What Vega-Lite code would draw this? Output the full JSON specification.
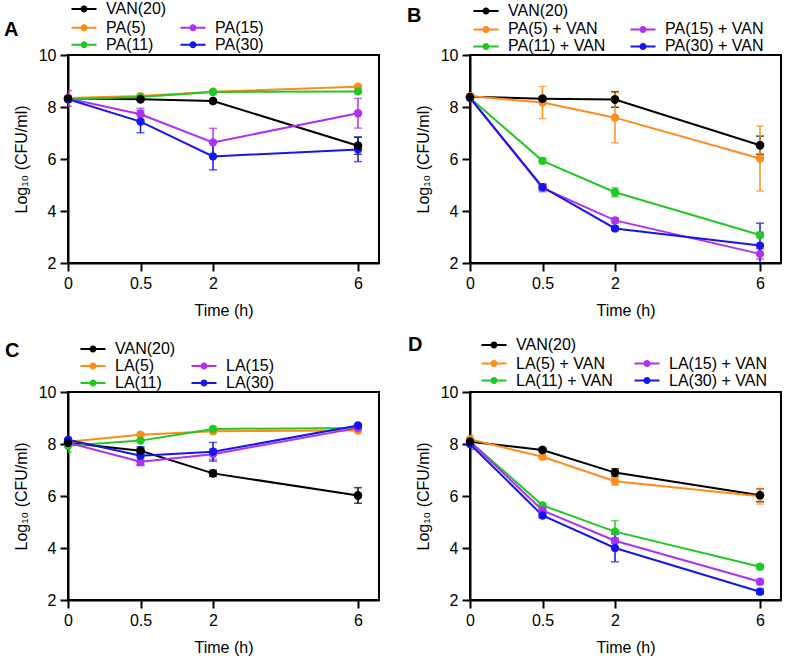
{
  "$schema": "https://vega.github.io/schema/vega-lite/v6.json",
  "autosize": {"type": "pad"},
  "padding": {"left": 3, "top": 0, "right": 2, "bottom": 2},
  "background": "white",
  "datasets": {
    "A": [
      {"t": 0, "s": "VAN(20)", "v": 8.33, "e": 0.05}, {"t": 0.5, "s": "VAN(20)", "v": 8.30, "e": 0.05}, {"t": 2, "s": "VAN(20)", "v": 8.23, "e": 0.05}, {"t": 6, "s": "VAN(20)", "v": 6.51, "e": 0.33},
      {"t": 0, "s": "PA(5)", "v": 8.35, "e": 0.1}, {"t": 0.5, "s": "PA(5)", "v": 8.42, "e": 0.05}, {"t": 2, "s": "PA(5)", "v": 8.59, "e": 0.05}, {"t": 6, "s": "PA(5)", "v": 8.78, "e": 0.05},
      {"t": 0, "s": "PA(11)", "v": 8.30, "e": 0.1}, {"t": 0.5, "s": "PA(11)", "v": 8.38, "e": 0.05}, {"t": 2, "s": "PA(11)", "v": 8.58, "e": 0.05}, {"t": 6, "s": "PA(11)", "v": 8.60, "e": 0.05},
      {"t": 0, "s": "PA(15)", "v": 8.33, "e": 0.3}, {"t": 0.5, "s": "PA(15)", "v": 7.72, "e": 0.23}, {"t": 2, "s": "PA(15)", "v": 6.64, "e": 0.54}, {"t": 6, "s": "PA(15)", "v": 7.76, "e": 0.57},
      {"t": 0, "s": "PA(30)", "v": 8.30, "e": 0.1}, {"t": 0.5, "s": "PA(30)", "v": 7.44, "e": 0.43}, {"t": 2, "s": "PA(30)", "v": 6.10, "e": 0.52}, {"t": 6, "s": "PA(30)", "v": 6.37, "e": 0.47}
    ],
    "B": [
      {"t": 0, "s": "VAN(20)", "v": 8.39, "e": 0.05}, {"t": 0.5, "s": "VAN(20)", "v": 8.32, "e": 0.05}, {"t": 2, "s": "VAN(20)", "v": 8.29, "e": 0.3}, {"t": 6, "s": "VAN(20)", "v": 6.53, "e": 0.35},
      {"t": 0, "s": "PA(5) + VAN", "v": 8.42, "e": 0.1}, {"t": 0.5, "s": "PA(5) + VAN", "v": 8.17, "e": 0.62}, {"t": 2, "s": "PA(5) + VAN", "v": 7.59, "e": 0.97}, {"t": 6, "s": "PA(5) + VAN", "v": 6.02, "e": 1.25},
      {"t": 0, "s": "PA(11) + VAN", "v": 8.35, "e": 0.05}, {"t": 0.5, "s": "PA(11) + VAN", "v": 5.93, "e": 0.1}, {"t": 2, "s": "PA(11) + VAN", "v": 4.72, "e": 0.17}, {"t": 6, "s": "PA(11) + VAN", "v": 3.08, "e": 0.1},
      {"t": 0, "s": "PA(15) + VAN", "v": 8.35, "e": 0.05}, {"t": 0.5, "s": "PA(15) + VAN", "v": 4.89, "e": 0.15}, {"t": 2, "s": "PA(15) + VAN", "v": 3.64, "e": 0.1}, {"t": 6, "s": "PA(15) + VAN", "v": 2.35, "e": 0.2},
      {"t": 0, "s": "PA(30) + VAN", "v": 8.35, "e": 0.05}, {"t": 0.5, "s": "PA(30) + VAN", "v": 4.92, "e": 0.1}, {"t": 2, "s": "PA(30) + VAN", "v": 3.33, "e": 0.08}, {"t": 6, "s": "PA(30) + VAN", "v": 2.67, "e": 0.86}
    ],
    "C": [
      {"t": 0, "s": "VAN(20)", "v": 8.05, "e": 0.1}, {"t": 0.5, "s": "VAN(20)", "v": 7.74, "e": 0.1}, {"t": 2, "s": "VAN(20)", "v": 6.87, "e": 0.12}, {"t": 6, "s": "VAN(20)", "v": 6.02, "e": 0.3},
      {"t": 0, "s": "LA(5)", "v": 8.09, "e": 0.05}, {"t": 0.5, "s": "LA(5)", "v": 8.36, "e": 0.05}, {"t": 2, "s": "LA(5)", "v": 8.49, "e": 0.05}, {"t": 6, "s": "LA(5)", "v": 8.52, "e": 0.05},
      {"t": 0, "s": "LA(11)", "v": 7.93, "e": 0.25}, {"t": 0.5, "s": "LA(11)", "v": 8.13, "e": 0.05}, {"t": 2, "s": "LA(11)", "v": 8.58, "e": 0.05}, {"t": 6, "s": "LA(11)", "v": 8.62, "e": 0.05},
      {"t": 0, "s": "LA(15)", "v": 8.05, "e": 0.1}, {"t": 0.5, "s": "LA(15)", "v": 7.32, "e": 0.15}, {"t": 2, "s": "LA(15)", "v": 7.61, "e": 0.2}, {"t": 6, "s": "LA(15)", "v": 8.62, "e": 0.05},
      {"t": 0, "s": "LA(30)", "v": 8.16, "e": 0.1}, {"t": 0.5, "s": "LA(30)", "v": 7.55, "e": 0.35}, {"t": 2, "s": "LA(30)", "v": 7.70, "e": 0.36}, {"t": 6, "s": "LA(30)", "v": 8.71, "e": 0.05}
    ],
    "D": [
      {"t": 0, "s": "VAN(20)", "v": 8.09, "e": 0.1}, {"t": 0.5, "s": "VAN(20)", "v": 7.77, "e": 0.08}, {"t": 2, "s": "VAN(20)", "v": 6.90, "e": 0.15}, {"t": 6, "s": "VAN(20)", "v": 6.03, "e": 0.25},
      {"t": 0, "s": "LA(5) + VAN", "v": 8.18, "e": 0.15}, {"t": 0.5, "s": "LA(5) + VAN", "v": 7.51, "e": 0.08}, {"t": 2, "s": "LA(5) + VAN", "v": 6.57, "e": 0.15}, {"t": 6, "s": "LA(5) + VAN", "v": 5.99, "e": 0.3},
      {"t": 0, "s": "LA(11) + VAN", "v": 8.10, "e": 0.1}, {"t": 0.5, "s": "LA(11) + VAN", "v": 5.64, "e": 0.08}, {"t": 2, "s": "LA(11) + VAN", "v": 4.63, "e": 0.42}, {"t": 6, "s": "LA(11) + VAN", "v": 3.28, "e": 0.08},
      {"t": 0, "s": "LA(15) + VAN", "v": 8.10, "e": 0.1}, {"t": 0.5, "s": "LA(15) + VAN", "v": 5.45, "e": 0.08}, {"t": 2, "s": "LA(15) + VAN", "v": 4.28, "e": 0.1}, {"t": 6, "s": "LA(15) + VAN", "v": 2.70, "e": 0.1},
      {"t": 0, "s": "LA(30) + VAN", "v": 8.00, "e": 0.2}, {"t": 0.5, "s": "LA(30) + VAN", "v": 5.25, "e": 0.08}, {"t": 2, "s": "LA(30) + VAN", "v": 4.00, "e": 0.53}, {"t": 6, "s": "LA(30) + VAN", "v": 2.32, "e": 0.1}
    ]
  },
  "config": {
    "font": "Liberation Sans",
    "view": {"stroke": "black", "strokeWidth": 2},
    "axis": {"grid": false, "labelFlush": false, "domainColor": "black", "domainWidth": 2, "tickColor": "black", "tickWidth": 2, "tickSize": 8, "labelFont": "Liberation Sans", "labelFontSize": 16, "labelColor": "black", "labelPadding": 4, "titleFont": "Liberation Sans", "titleFontSize": 16, "titleFontWeight": "normal", "titleColor": "black"},
    "axisX": {"titlePadding": 11},
    "axisY": {"titlePadding": 9},
    "legend": {"labelFont": "Liberation Sans", "labelFontSize": 16, "labelColor": "black", "symbolType": "M-2.5,-0.2H2.5V0.2H-2.5Z M0.7,0A0.7,0.7 0 1,1 -0.7,0A0.7,0.7 0 1,1 0.7,0Z", "symbolSize": 100, "symbolStrokeWidth": 0, "symbolOpacity": 1, "labelOffset": 14, "rowPadding": 1, "padding": 0},
    "title": {"font": "Liberation Sans", "fontSize": 20, "fontWeight": "bold", "color": "black", "anchor": "start", "frame": "group", "offset": 0}
  },
  "columns": 2,
  "spacing": {"row": 129, "column": 91},
  "bounds": "flush",
  "resolve": {"scale": {"color": "independent", "fill": "independent"}, "legend": {"color": "independent", "fill": "independent"}},
  "concat": [
    {
      "width": 311, "height": 208,
      "title": {"text": "A", "dx": -64, "dy": 43},
      "data": {"name": "A"},
      "encoding": {
        "x": {"field": "t", "type": "quantitative", "title": "Time (h)", "scale": {"domain": [0, 0.5, 2, 6, 6.58], "range": [0, 72.5, 145, 290, 311], "nice": false, "zero": false}, "axis": {"values": [0, 0.5, 2, 6], "format": "~g"}},
        "y": {"field": "v", "type": "quantitative", "title": "Log₁₀ (CFU/ml)", "scale": {"domain": [2, 10], "nice": false, "zero": false}, "axis": {"values": [2, 4, 6, 8, 10], "format": "d"}}
      },
      "layer": [
        {"mark": {"type": "line", "strokeWidth": 2, "clip": true}, "encoding": {"color": {"field": "s", "type": "nominal", "scale": {"domain": ["PA(5)", "PA(11)", "PA(15)", "PA(30)", "VAN(20)"], "range": ["#FF8C1A", "#22C822", "#B030F0", "#1515F0", "#000000"]}}}},
        {"mark": {"type": "errorbar", "ticks": true, "size": 8, "thickness": 1.5, "clip": true}, "encoding": {"yError": {"field": "e"}, "color": {"field": "s", "type": "nominal"}}},
        {"mark": {"type": "point", "filled": true, "size": 70, "opacity": 1}, "encoding": {"color": {"field": "s", "type": "nominal", "legend": {"title": null, "orient": "none", "legendX": 8, "legendY": -35.3, "columns": 2, "columnPadding": 26, "values": ["PA(5)", "PA(11)", "PA(15)", "PA(30)"]}}}},
        {"transform": [{"filter": "datum.s === 'VAN(20)'"}], "mark": {"type": "point", "filled": true, "size": 70, "opacity": 1}, "encoding": {"fill": {"field": "s", "type": "nominal", "scale": {"domain": ["VAN(20)"], "range": ["#000000"]}, "legend": {"title": null, "orient": "none", "legendX": 8, "legendY": -54}}}}
      ]
    },
    {
      "width": 311, "height": 208,
      "title": {"text": "B", "dx": -63, "dy": 27},
      "data": {"name": "B"},
      "encoding": {
        "x": {"field": "t", "type": "quantitative", "title": "Time (h)", "scale": {"domain": [0, 0.5, 2, 6, 6.58], "range": [0, 72.5, 145, 290, 311], "nice": false, "zero": false}, "axis": {"values": [0, 0.5, 2, 6], "format": "~g"}},
        "y": {"field": "v", "type": "quantitative", "title": "Log₁₀ (CFU/ml)", "scale": {"domain": [2, 10], "nice": false, "zero": false}, "axis": {"values": [2, 4, 6, 8, 10], "format": "d"}}
      },
      "layer": [
        {"mark": {"type": "line", "strokeWidth": 2, "clip": true}, "encoding": {"color": {"field": "s", "type": "nominal", "scale": {"domain": ["PA(5) + VAN", "PA(11) + VAN", "PA(15) + VAN", "PA(30) + VAN", "VAN(20)"], "range": ["#FF8C1A", "#22C822", "#B030F0", "#1515F0", "#000000"]}}}},
        {"mark": {"type": "errorbar", "ticks": true, "size": 8, "thickness": 1.5, "clip": true}, "encoding": {"yError": {"field": "e"}, "color": {"field": "s", "type": "nominal"}}},
        {"mark": {"type": "point", "filled": true, "size": 70, "opacity": 1}, "encoding": {"color": {"field": "s", "type": "nominal", "legend": {"title": null, "orient": "none", "legendX": 8, "legendY": -33.6, "columns": 2, "columnPadding": 24, "values": ["PA(5) + VAN", "PA(11) + VAN", "PA(15) + VAN", "PA(30) + VAN"]}}}},
        {"transform": [{"filter": "datum.s === 'VAN(20)'"}], "mark": {"type": "point", "filled": true, "size": 70, "opacity": 1}, "encoding": {"fill": {"field": "s", "type": "nominal", "scale": {"domain": ["VAN(20)"], "range": ["#000000"]}, "legend": {"title": null, "orient": "none", "legendX": 8, "legendY": -52}}}}
      ]
    },
    {
      "width": 311, "height": 208,
      "title": {"text": "C", "dx": -63, "dy": 24},
      "data": {"name": "C"},
      "encoding": {
        "x": {"field": "t", "type": "quantitative", "title": "Time (h)", "scale": {"domain": [0, 0.5, 2, 6, 6.58], "range": [0, 72.5, 145, 290, 311], "nice": false, "zero": false}, "axis": {"values": [0, 0.5, 2, 6], "format": "~g"}},
        "y": {"field": "v", "type": "quantitative", "title": "Log₁₀ (CFU/ml)", "scale": {"domain": [2, 10], "nice": false, "zero": false}, "axis": {"values": [2, 4, 6, 8, 10], "format": "d"}}
      },
      "layer": [
        {"mark": {"type": "line", "strokeWidth": 2, "clip": true}, "encoding": {"color": {"field": "s", "type": "nominal", "scale": {"domain": ["LA(5)", "LA(11)", "LA(15)", "LA(30)", "VAN(20)"], "range": ["#FF8C1A", "#22C822", "#B030F0", "#1515F0", "#000000"]}}}},
        {"mark": {"type": "errorbar", "ticks": true, "size": 8, "thickness": 1.5, "clip": true}, "encoding": {"yError": {"field": "e"}, "color": {"field": "s", "type": "nominal"}}},
        {"mark": {"type": "point", "filled": true, "size": 70, "opacity": 1}, "encoding": {"color": {"field": "s", "type": "nominal", "legend": {"title": null, "orient": "none", "legendX": 17, "legendY": -34, "columns": 2, "columnPadding": 29, "values": ["LA(5)", "LA(11)", "LA(15)", "LA(30)"]}}}},
        {"transform": [{"filter": "datum.s === 'VAN(20)'"}], "mark": {"type": "point", "filled": true, "size": 70, "opacity": 1}, "encoding": {"fill": {"field": "s", "type": "nominal", "scale": {"domain": ["VAN(20)"], "range": ["#000000"]}, "legend": {"title": null, "orient": "none", "legendX": 17, "legendY": -51}}}}
      ]
    },
    {
      "width": 311, "height": 208,
      "title": {"text": "D", "dx": -62, "dy": 22},
      "data": {"name": "D"},
      "encoding": {
        "x": {"field": "t", "type": "quantitative", "title": "Time (h)", "scale": {"domain": [0, 0.5, 2, 6, 6.58], "range": [0, 72.5, 145, 290, 311], "nice": false, "zero": false}, "axis": {"values": [0, 0.5, 2, 6], "format": "~g"}},
        "y": {"field": "v", "type": "quantitative", "title": "Log₁₀ (CFU/ml)", "scale": {"domain": [2, 10], "nice": false, "zero": false}, "axis": {"values": [2, 4, 6, 8, 10], "format": "d"}}
      },
      "layer": [
        {"mark": {"type": "line", "strokeWidth": 2, "clip": true}, "encoding": {"color": {"field": "s", "type": "nominal", "scale": {"domain": ["LA(5) + VAN", "LA(11) + VAN", "LA(15) + VAN", "LA(30) + VAN", "VAN(20)"], "range": ["#FF8C1A", "#22C822", "#B030F0", "#1515F0", "#000000"]}}}},
        {"mark": {"type": "errorbar", "ticks": true, "size": 8, "thickness": 1.5, "clip": true}, "encoding": {"yError": {"field": "e"}, "color": {"field": "s", "type": "nominal"}}},
        {"mark": {"type": "point", "filled": true, "size": 70, "opacity": 1}, "encoding": {"color": {"field": "s", "type": "nominal", "legend": {"title": null, "orient": "none", "legendX": 16, "legendY": -36.4, "columns": 2, "columnPadding": 21, "values": ["LA(5) + VAN", "LA(11) + VAN", "LA(15) + VAN", "LA(30) + VAN"]}}}},
        {"transform": [{"filter": "datum.s === 'VAN(20)'"}], "mark": {"type": "point", "filled": true, "size": 70, "opacity": 1}, "encoding": {"fill": {"field": "s", "type": "nominal", "scale": {"domain": ["VAN(20)"], "range": ["#000000"]}, "legend": {"title": null, "orient": "none", "legendX": 16, "legendY": -55}}}}
      ]
    }
  ]
}
